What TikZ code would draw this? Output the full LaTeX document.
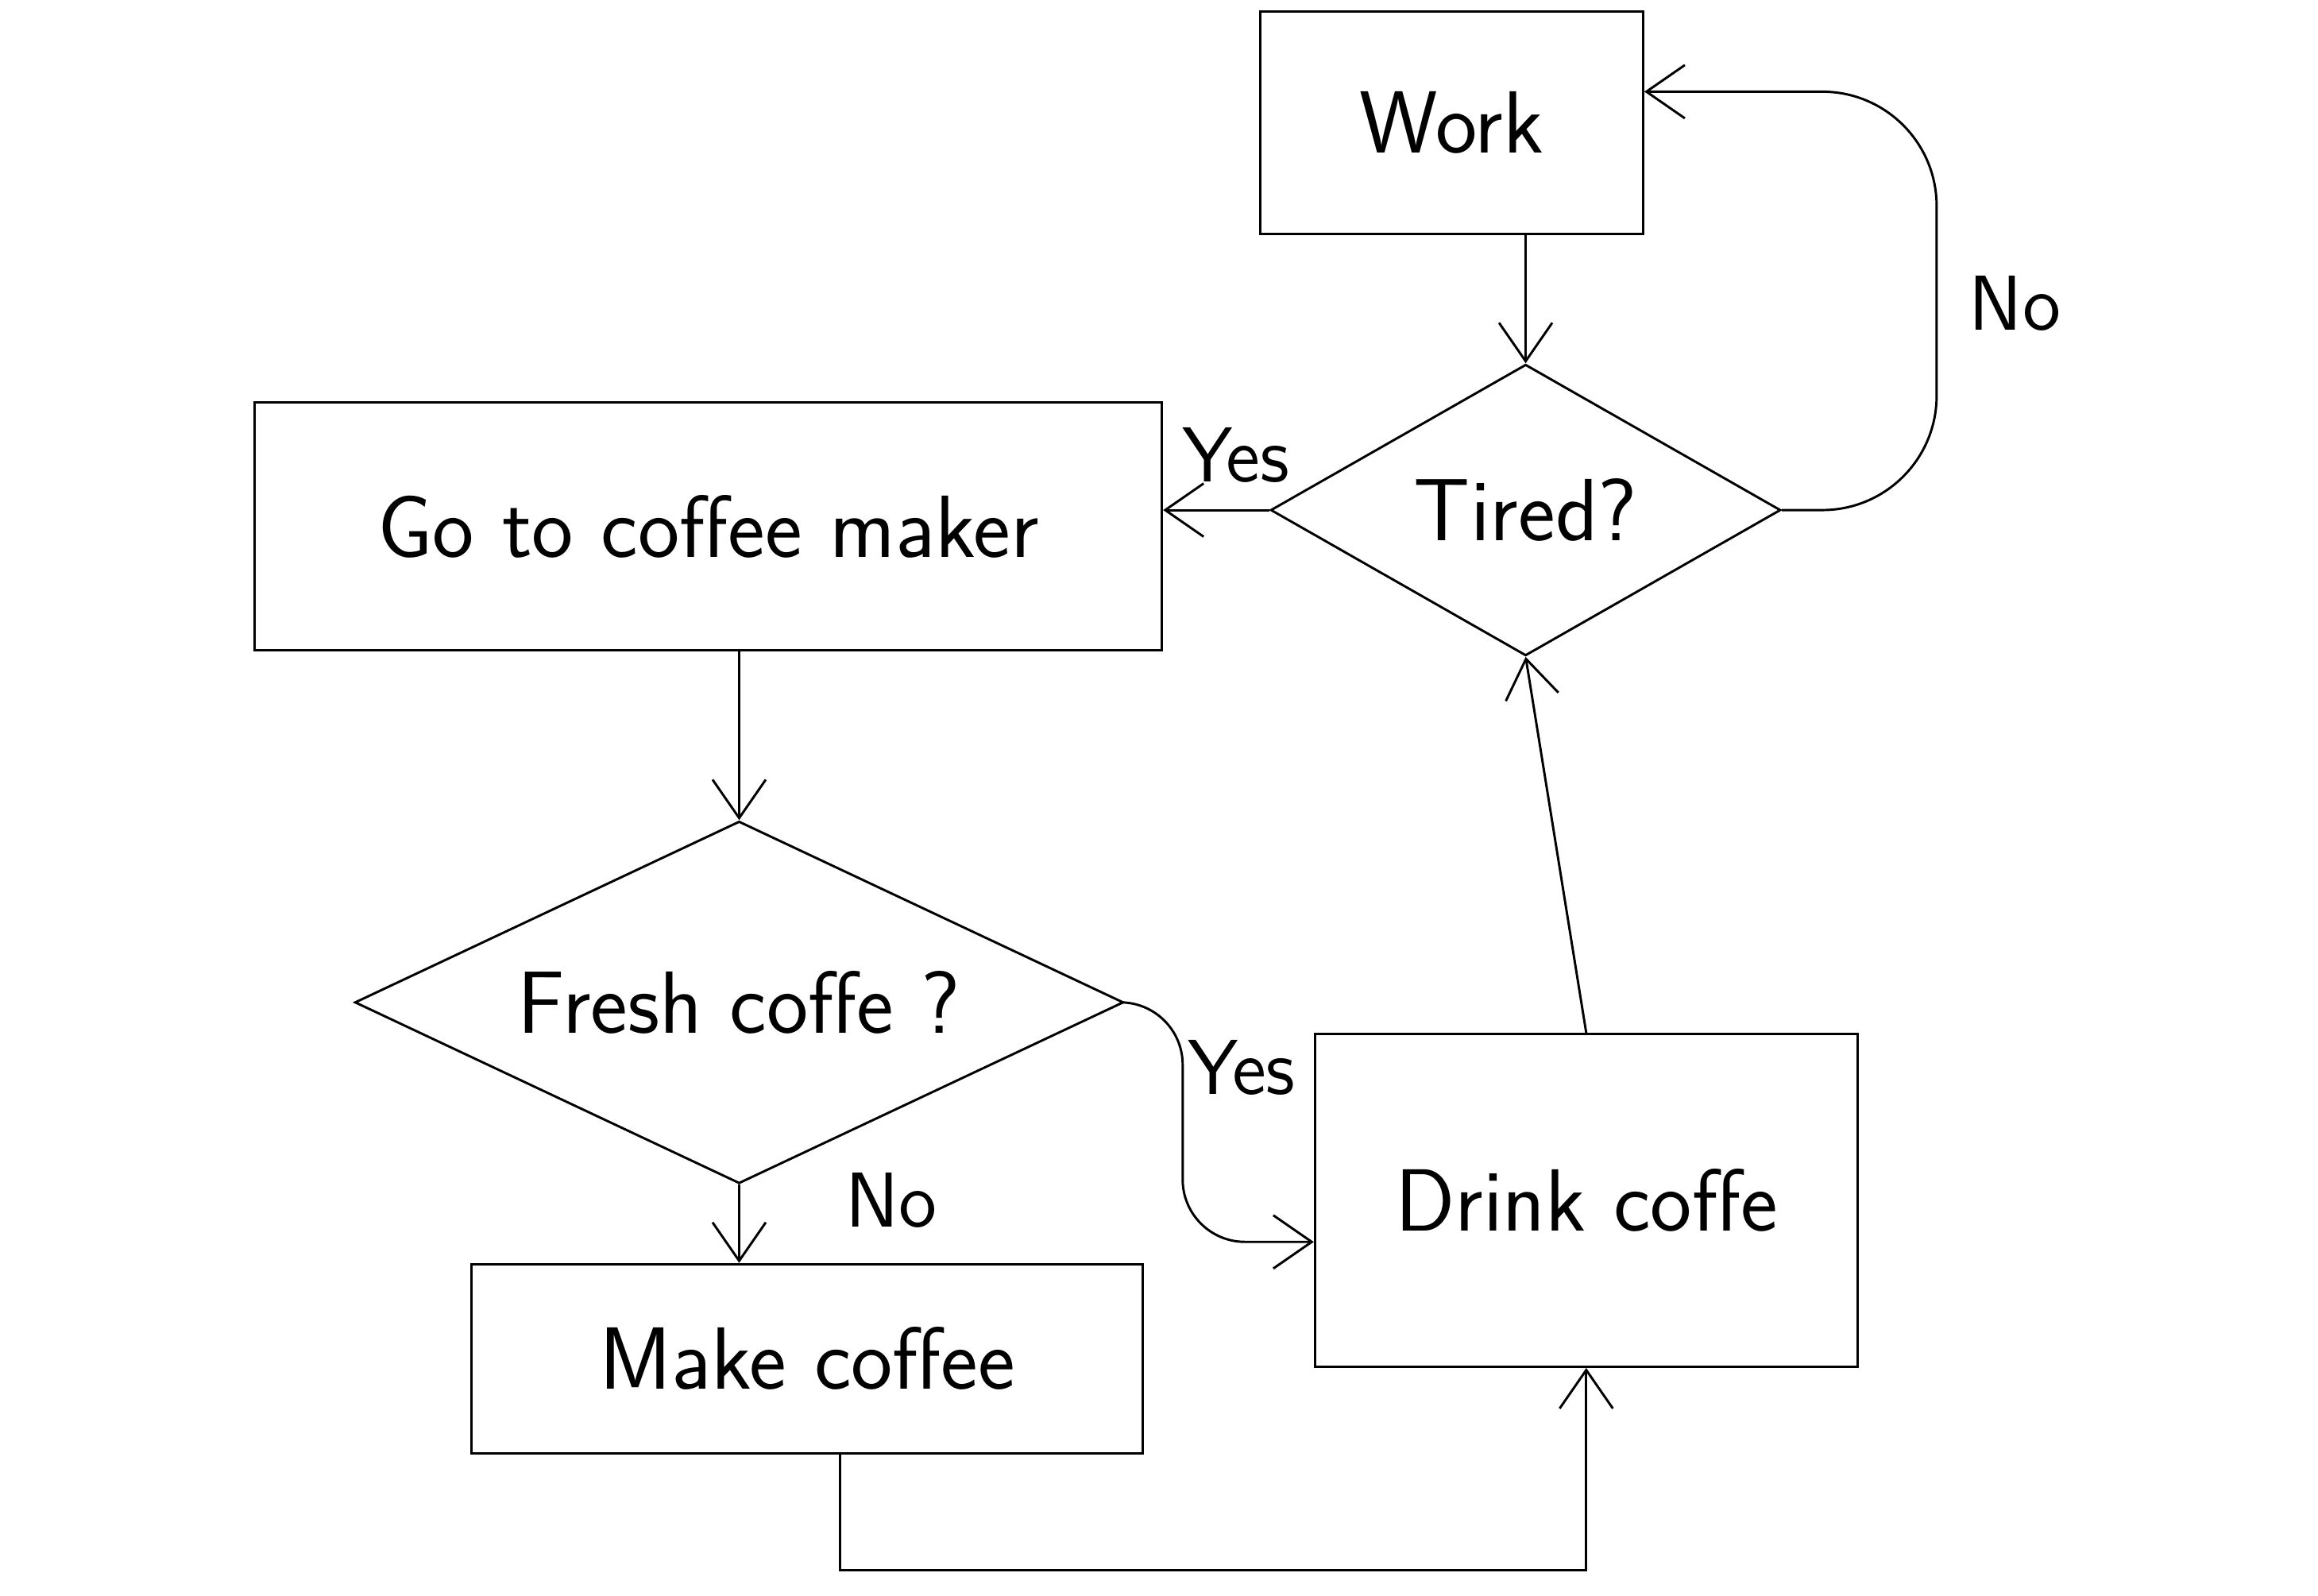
\documentclass[tikz,border=0pt]{standalone}
\usepackage{tikz}
\usetikzlibrary{arrows.meta,shapes.geometric}

\tikzset{
  pen/.style={line width=0.45pt},
  stepbox/.style={pen,draw,rectangle,inner sep=0pt,font=\fontsize{17}{20}\selectfont\sffamily},
  question/.style={pen,draw,diamond,inner sep=0pt,font=\fontsize{17}{20}\selectfont\sffamily},
  flow/.style={pen,-{Straight Barb[length=2.6mm,width=3.6mm]}},
  answer/.style={font=\fontsize{15}{18}\selectfont\sffamily}
}

\begin{document}
\begin{tikzpicture}[scale=1]

\useasboundingbox (0,0) rectangle (15.68,-10.79);

% boxes
\node[stepbox,minimum width=2.59cm,minimum height=1.50cm] (work) at (9.82,-0.83) {Work};
\node[stepbox,minimum width=6.14cm,minimum height=1.68cm] (go) at (4.79,-3.56) {Go to coffee maker};
\node[stepbox,minimum width=4.54cm,minimum height=1.28cm] (make) at (5.46,-9.19) {Make coffee};
\node[stepbox,minimum width=3.67cm,minimum height=2.25cm] (drink) at (10.73,-8.12) {Drink coffe};

% decisions
\node[question,aspect=1.75,minimum width=3.45cm,minimum height=1.97cm] (tired) at (10.32,-3.45) {Tired?};
\node[question,aspect=2.12,minimum width=5.20cm,minimum height=2.45cm] (fresh) at (5.00,-6.78) {Fresh coffe ?};

% bends
\coordinate (nobend) at (13.10,-0.62);
\coordinate (yesbend) at (8.00,-8.40);
\coordinate (loopdown) at (5.68,-10.62);

% connectors
\draw[flow] (tired.north |- work.south) -- (tired.north);
\draw[flow] (tired.west) -- (tired.west -| go.east);
\draw[flow,rounded corners=22pt] (tired.east) -| (nobend) -- (nobend -| work.east);
\draw[flow] (go.south -| fresh.north) -- (fresh.north);
\draw[flow] (fresh.south) -- (fresh.south |- make.north);
\draw[flow,rounded corners=12pt] (fresh.east) -| (yesbend) -- (yesbend -| drink.west);
\draw[flow] (make.south -| loopdown) -- (loopdown) -| (drink.south);
\draw[flow] (drink.north) -- (tired.south);

% answers
\node[answer] (yestired) at (8.36,-3.08) {Yes};
\node[answer] (notired) at (13.63,-2.05) {No};
\node[answer] (yesfresh) at (8.40,-7.22) {Yes};
\node[answer] (nofresh) at (6.03,-8.12) {No};

\end{tikzpicture}
\end{document}
